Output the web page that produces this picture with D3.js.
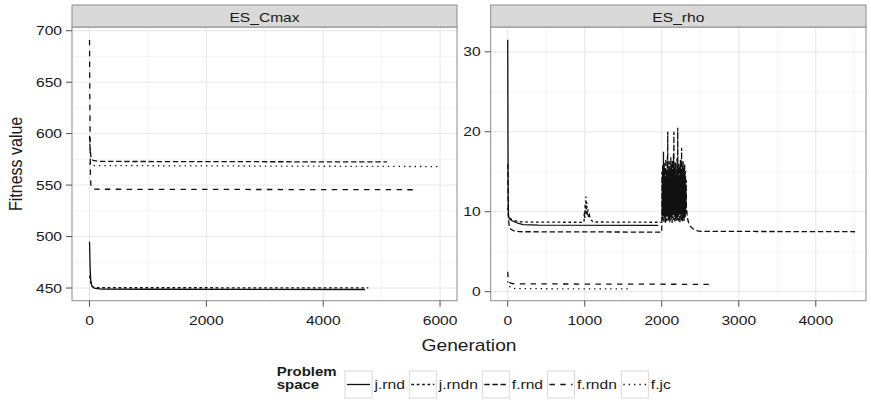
<!DOCTYPE html>
<html>
<head>
<meta charset="utf-8">
<script src="https://cdn.jsdelivr.net/npm/d3@7"></script>
<style>
body { margin: 0; background: #fff; }
text { font-family: "Liberation Sans", Arial, sans-serif; fill: #1a1a1a; }
</style>
</head>
<body>
<svg id="chart" width="871" height="403"></svg>
<script>
// facet names and legend entries
const facets = ["ES_Cmax", "ES_rho"]
const spaces = ["j.rnd", "j.rndn", "f.rnd", "f.rndn", "f.jc"]

// tick labels
const cmaxXTicks = [0, 2000, 4000, 6000]
const cmaxYTicks = [450, 500, 550, 600, 650, 700]
const rhoXTicks = [0, 1000, 2000, 3000, 4000]
const rhoYTicks = [0, 10, 20, 30]

// ES_Cmax series, [generation, fitness]
const cmaxJrnd = [[0,495],[10,470],[20,458],[40,452],[80,450],[200,449],[1000,448.8],[4715,448.6]]
const cmaxJrndn = [[0,462],[20,455],[50,451],[150,450.3],[4772,450.2]]
const cmaxFrnd = [[0,598],[10,585],[25,577],[60,574],[150,573],[5090,572.5]]
const cmaxFrndn = [[0,691],[5,640],[10,600],[15,560],[25,548],[60,546],[5570,545.5]]
const cmaxFjc = [[0,571],[20,569],[5990,568]]

// ES_rho series
const rhoJrnd = [[0,31.5],[3,20],[6,12],[10,9.6],[20,9.1],[50,8.9],[100,8.7],[150,8.5],[200,8.38],[400,8.33],[1955,8.3]]
const rhoJrndn = [[0,10.5],[10,9.5],[50,9.0],[150,8.75],[300,8.7],[990,8.68],[995,10],[1000,9.2],[1005,11],[1010,9.6],
  [1015,11.9],[1020,9.8],[1025,11.2],[1030,9.5],[1040,10.3],[1050,9.3],[1060,9.6],[1075,9.0],[1090,8.9],[1110,8.72],[2000,8.68]]
const rhoFrnd = [[0,16],[5,11],[10,9],[20,8.2],[40,7.8],[80,7.6],[150,7.5],[2000,7.45],
  [2002.5,15.0],[2005,9.2],[2007.5,14.2],[2010,10.1],[2012.5,15.8],[2015,8.9],[2017.5,13.6],[2020,9.7],[2022.5,17.5],[2025,10.4],
  [2027.5,14.9],[2030,8.7],[2032.5,16.1],[2035,9.9],[2037.5,13.4],[2040,10.6],[2042.5,15.5],[2045,9.1],[2047.5,14.4],[2050,8.6],
  [2052.5,16.6],[2055,10.2],[2057.5,13.9],[2060,9.4],[2062.5,15.2],[2065,8.8],[2067.5,14.6],[2070,10.0],[2072.5,16.9],[2075,9.3],
  [2077.5,20.0],[2080,10.5],[2082.5,14.1],[2085,8.9],[2087.5,15.7],[2090,9.8],[2092.5,13.3],[2095,10.3],[2097.5,16.3],[2100,9.0],
  [2102.5,14.8],[2105,8.7],[2107.5,15.4],[2110,10.1],[2112.5,13.7],[2115,9.5],[2117.5,16.8],[2120,8.9],[2122.5,14.3],[2125,10.4],
  [2127.5,15.9],[2130,9.2],[2132.5,13.5],[2135,8.6],[2137.5,16.4],[2140,9.9],[2142.5,14.7],[2145,10.2],[2147.5,15.1],[2150,9.0],
  [2152.5,17.2],[2155,9.6],[2157.5,20.0],[2160,10.0],[2162.5,14.0],[2165,8.8],[2167.5,15.6],[2170,9.7],[2172.5,13.8],[2175,10.5],
  [2177.5,16.2],[2180,9.1],[2182.5,14.5],[2185,8.7],[2187.5,15.3],[2190,10.1],[2192.5,13.6],[2195,9.4],[2197.5,16.7],[2200,8.9],
  [2202.5,14.9],[2205,10.3],[2207.5,20.5],[2210,9.3],[2212.5,15.0],[2215,8.8],[2217.5,13.9],[2220,9.8],[2222.5,16.0],[2225,10.2],
  [2227.5,14.2],[2230,9.0],[2232.5,15.7],[2235,8.6],[2237.5,13.4],[2240,9.9],[2242.5,16.5],[2245,10.4],[2247.5,14.6],[2250,9.2],
  [2252.5,15.2],[2255,8.9],[2257.5,18.0],[2260,9.6],[2262.5,14.1],[2265,10.0],[2267.5,15.8],[2270,8.7],[2272.5,13.7],[2275,9.5],
  [2277.5,16.3],[2280,10.3],[2282.5,14.4],[2285,9.1],[2287.5,15.5],[2290,8.8],[2292.5,13.8],[2295,9.7],[2297.5,16.0],[2300,10.1],
  [2302.5,14.7],[2305,9.3],[2307.5,15.1],[2310,9.8],[2312.5,13.2],[2315,10.4],[2317.5,14.0],[2320,10.6],
  [2330,9.6],[2340,8.9],[2360,8.3],[2400,7.9],[2450,7.65],[2500,7.55],[4510,7.5]]
const rhoFrndn = [[0,2.5],[5,1.8],[10,1.4],[30,1.1],[80,0.98],[2630,0.92]]
const rhoFjc = [[0,1.3],[10,0.8],[40,0.5],[100,0.38],[1590,0.34]]

const dashes = {"j.rnd": null, "j.rndn": "2.7,2.7", "f.rnd": "5.4,2.7", "f.rndn": "5.4,5.4", "f.jc": "1.35,4"}
const stretch = 1.2  // the reference text is wider than it is tall

const svg = d3.select("#chart")
const panelTop = 27, panelBottom = 300.7

const panels = [
  {name: facets[0], x0: 72, x1: 457, xDom: [-300, 6290], yDom: [437.7, 703.6],
   xTicks: cmaxXTicks, yTicks: cmaxYTicks, xMinor: [1000, 3000, 5000], yMinor: [475, 525, 575, 625, 675],
   series: [cmaxJrnd, cmaxJrndn, cmaxFrnd, cmaxFrndn, cmaxFjc]},
  {name: facets[1], x0: 490.7, x1: 866, xDom: [-221, 4652], yDom: [-1.125, 33.1],
   xTicks: rhoXTicks, yTicks: rhoYTicks, xMinor: [500, 1500, 2500, 3500, 4500], yMinor: [5, 15, 25],
   series: [rhoJrnd, rhoJrndn, rhoFrnd, rhoFrndn, rhoFjc]}
]

function label(g, x, y, str, size, anchor, weight) {
  return g.append("text")
    .attr("transform", "translate(" + x + "," + y + ") scale(" + stretch + ",1)")
    .attr("font-size", size)
    .attr("text-anchor", anchor || "start")
    .attr("font-weight", weight || "normal")
    .text(str)
}

panels.forEach(p => {
  const x = d3.scaleLinear().domain(p.xDom).range([p.x0, p.x1])
  const y = d3.scaleLinear().domain(p.yDom).range([panelBottom, panelTop])
  const g = svg.append("g")

  g.append("rect").attr("x", p.x0).attr("y", panelTop)
    .attr("width", p.x1 - p.x0).attr("height", panelBottom - panelTop).attr("fill", "#fff")

  // minor then major grid
  p.xMinor.forEach(v => g.append("line").attr("x1", x(v)).attr("x2", x(v)).attr("y1", panelTop).attr("y2", panelBottom)
    .attr("stroke", "#f4f4f4").attr("stroke-width", 1))
  p.yMinor.forEach(v => g.append("line").attr("y1", y(v)).attr("y2", y(v)).attr("x1", p.x0).attr("x2", p.x1)
    .attr("stroke", "#f4f4f4").attr("stroke-width", 1))
  p.xTicks.forEach(v => g.append("line").attr("x1", x(v)).attr("x2", x(v)).attr("y1", panelTop).attr("y2", panelBottom)
    .attr("stroke", "#e6e6e6").attr("stroke-width", 1))
  p.yTicks.forEach(v => g.append("line").attr("y1", y(v)).attr("y2", y(v)).attr("x1", p.x0).attr("x2", p.x1)
    .attr("stroke", "#e6e6e6").attr("stroke-width", 1))

  const line = d3.line().x(d => x(d[0])).y(d => y(d[1]))
  p.series.forEach((s, i) => {
    g.append("path").datum(s).attr("d", line)
      .attr("fill", "none").attr("stroke", "#111").attr("stroke-width", 1.3)
      .attr("stroke-dasharray", dashes[spaces[i]])
  })

  g.append("rect").attr("x", p.x0).attr("y", panelTop)
    .attr("width", p.x1 - p.x0).attr("height", panelBottom - panelTop)
    .attr("fill", "none").attr("stroke", "#8c8c8c").attr("stroke-width", 1)

  // strip
  g.append("rect").attr("x", p.x0).attr("y", 5)
    .attr("width", p.x1 - p.x0).attr("height", panelTop - 5)
    .attr("fill", "#d9d9d9").attr("stroke", "#8c8c8c").attr("stroke-width", 1)
  label(g, (p.x0 + p.x1) / 2, 21.5, p.name, 13, "middle")

  // axes
  p.xTicks.forEach(v => {
    g.append("line").attr("x1", x(v)).attr("x2", x(v)).attr("y1", panelBottom).attr("y2", panelBottom + 6)
      .attr("stroke", "#4d4d4d").attr("stroke-width", 1)
    label(g, x(v), 325, v, 13, "middle")
  })
  p.yTicks.forEach(v => {
    g.append("line").attr("x1", p.x0 - 6).attr("x2", p.x0).attr("y1", y(v)).attr("y2", y(v))
      .attr("stroke", "#4d4d4d").attr("stroke-width", 1)
    label(g, p.x0 - 10, y(v) + 4.6, v, 13, "end")
  })
})

// axis titles
label(svg, 469, 351, "Generation", 16, "middle")
svg.append("text")
  .attr("transform", "translate(22," + (panelTop + panelBottom) / 2 + ") scale(" + stretch + ",1) rotate(-90)")
  .attr("font-size", 16).attr("text-anchor", "middle")
  .text("Fitness value")

// legend
const leg = svg.append("g")
label(leg, 276.7, 375.5, "Problem", 12.5, "start", "bold")
label(leg, 276.7, 388.5, "space", 12.5, "start", "bold")
let lx = 345
spaces.forEach(s => {
  leg.append("rect").attr("x", lx).attr("y", 371).attr("width", 27).attr("height", 27)
    .attr("fill", "#fff").attr("stroke", "#d9d9d9").attr("stroke-width", 1)
  leg.append("line").attr("x1", lx + 2).attr("x2", lx + 25).attr("y1", 384.5).attr("y2", 384.5)
    .attr("stroke", "#111").attr("stroke-width", 1.3).attr("stroke-dasharray", dashes[s])
  const t = label(leg, lx + 29.5, 389, s, 13, "start")
  lx += 29.5 + t.node().getComputedTextLength() * stretch + 4.5
})
</script>
</body>
</html>
